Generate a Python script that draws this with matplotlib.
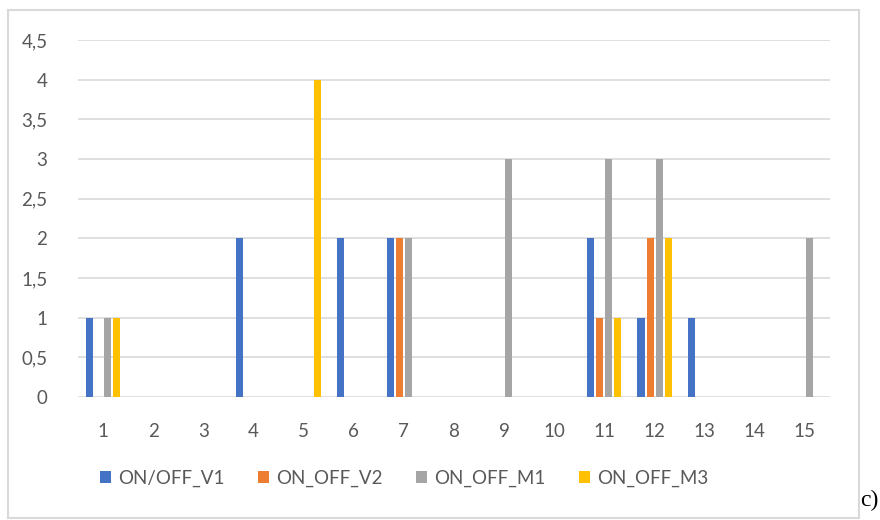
import matplotlib
matplotlib.use("Agg")
import matplotlib.pyplot as plt
from matplotlib.patches import Rectangle
import numpy as np

plt.rcParams['font.family'] = ['Lato', 'DejaVu Sans']

categories = list(range(1, 16))
series_names = ["ON/OFF_V1", "ON_OFF_V2", "ON_OFF_M1", "ON_OFF_M3"]
v1 = [1, 0, 0, 2, 0, 2, 2, 0, 0, 0, 2, 1, 1, 0, 0]
v2 = [0, 0, 0, 0, 0, 0, 2, 0, 0, 0, 1, 2, 0, 0, 0]
m1 = [1, 0, 0, 0, 0, 0, 2, 0, 3, 0, 3, 3, 0, 0, 2]
m3 = [1, 0, 0, 0, 4, 0, 0, 0, 0, 0, 1, 2, 0, 0, 0]
colors = ["#4472C4", "#ED7D31", "#A5A5A5", "#FFC000"]
yticks = [0, 0.5, 1, 1.5, 2, 2.5, 3, 3.5, 4, 4.5]

fig = plt.figure(figsize=(8.8, 5.2), dpi=100)
ax = fig.add_axes([78/880, 1-397/520, 752/880, 357/520])

x = np.array(categories)
step = 0.18
width = 0.14
for i, (vals, name, c) in enumerate(zip([v1, v2, m1, m3], series_names, colors)):
    ax.bar(x + (i - 1.5)*step, vals, width=width, color=c, label=name, zorder=3)

ax.set_xlim(0.5, 15.5)
ax.set_ylim(0, 4.5)
ax.set_xticks(categories)
ax.set_yticks(yticks)
ax.set_yticklabels([("%g" % t).replace(".", ",") for t in yticks])
ax.grid(axis="y", color="#d9d9d9", lw=1.2, zorder=0)
ax.set_axisbelow(True)
for s in ax.spines.values():
    s.set_visible(False)
ax.tick_params(length=0, colors="#595959", labelsize=13.5)
ax.tick_params(axis="x", pad=19)
ax.tick_params(axis="y", pad=22)

fig.legend(loc="center", bbox_to_anchor=(404/880, 1-478/520), ncol=4, frameon=False,
           fontsize=13.5, handlelength=0.6, handleheight=0.6, handletextpad=0.35,
           columnspacing=1.8, labelcolor="#595959")

fig.add_artist(Rectangle((8/880, 1-518/520), 851/880, 508/520, transform=fig.transFigure,
                         fill=False, edgecolor="#d9d9d9", lw=1.5))
fig.text(860/880, 1-500/520, "c)", fontsize=17, family="Liberation Serif", va="center")

fig.savefig("out.png", dpi=100)
